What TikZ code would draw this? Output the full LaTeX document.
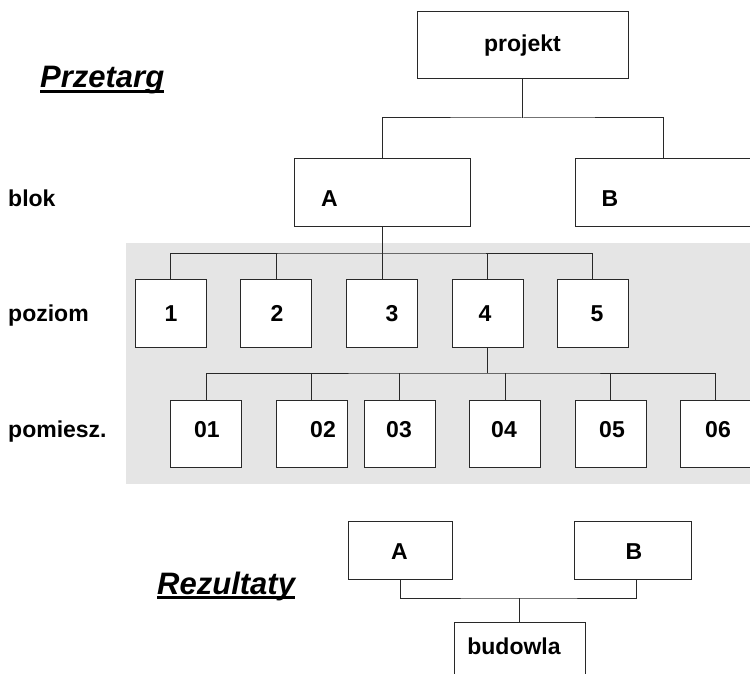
\documentclass[tikz,border=0pt]{standalone}
\usepackage{fontspec}
\setmainfont{Liberation Sans}
\definecolor{panel}{RGB}{229,229,229}
\definecolor{ink}{RGB}{40,40,40}
\begin{document}
\begin{tikzpicture}[x=1pt,y=-1pt,
  box/.style={draw=ink, line width=1pt, fill=white, inner sep=0pt, outer sep=0pt},
  conn/.style={draw=ink, line width=1pt},
  lbl/.style={font=\fontsize{23}{23}\selectfont\bfseries, inner sep=0pt, anchor=base},
  sidelbl/.style={lbl, anchor=base west},
  title/.style={font=\fontsize{31}{31}\selectfont\bfseries\itshape, inner sep=0pt, anchor=base west},
  uline/.style={line width=2.5pt, draw=black}
]
\useasboundingbox (0,0) rectangle (750,674);
\fill[panel] (126,243) rectangle (751,484);

% boxes
\node[box, minimum width=211pt, minimum height=67pt] (proj) at (522.5,45.5) {};
\node[box, minimum width=176pt, minimum height=67pt] (A) at (382,192.5) {};
\node[box, minimum width=176pt, minimum height=67pt] (B) at (663,192.5) {};
\foreach \n/\x in {1/170.5,2/276,3/382,4/487.5,5/592.5}
  \node[box, minimum width=71pt, minimum height=68pt] (p\n) at (\x,313) {};
\foreach \n/\x in {1/206,2/311.5,3/399.5,4/505,5/610.5,6/715.5}
  \node[box, minimum width=71pt, minimum height=67pt] (r\n) at (\x,433.5) {};
\node[box, minimum width=104pt, minimum height=58pt] (A2) at (400,550) {};
\node[box, minimum width=117pt, minimum height=58pt] (B2) at (632.5,550) {};
\node[box, minimum width=131pt, minimum height=68pt] (bud) at (519.5,656) {};

% connectors
\coordinate (bus0) at (522.5,118);
\draw[conn] (proj.south) -- (bus0);
\draw[conn] (A.north) |- (bus0) -| (B.north);

\coordinate (bus1) at (382,253);
\draw[conn] (A.south) -- (p3.north);
\draw[conn] (p1.north) |- (bus1) -| (p5.north);
\draw[conn] (p2.north) -- (p2.north |- bus1);
\draw[conn] (p4.north) -- (p4.north |- bus1);

\coordinate (bus2) at (487.5,373);
\draw[conn] (p4.south) -- (bus2);
\draw[conn] (r1.north) |- (bus2) -| (r6.north);
\foreach \n in {2,3,4,5}
  \draw[conn] (r\n.north) -- (r\n.north |- bus2);

\coordinate (bus3) at (519.5,598);
\draw[conn] (A2.south) |- (bus3) -| ([xshift=3.5pt]B2.south);
\draw[conn] (bus3) -- (bud.north);

% texts
\node[title] (tprz) at (40,88) {Przetarg};
\draw[uline] ([yshift=-3.5pt]tprz.base west) -- ([yshift=-3.5pt]tprz.base east);
\node[title] (trez) at (157,594) {Rezultaty};
\draw[uline] ([yshift=-3.5pt]trez.base west) -- ([yshift=-3.5pt]trez.base east);

\node[sidelbl] (tblok) at (8,206) {blok};
\node[sidelbl] (tpoz) at (8,321) {poziom};
\node[sidelbl] (tpom) at (8,437) {pomiesz.};

\node[lbl] (tproj) at (522.5,52) {projekt};
\node[lbl] (tA) at (329.5,206) {A};
\node[lbl] (tB) at (610,206) {B};
\node[lbl] (t1) at (171,321) {1};
\node[lbl] (t2) at (277,321) {2};
\node[lbl] (t3) at (392,321) {3};
\node[lbl] (t4) at (485,321) {4};
\node[lbl] (t5) at (597,321) {5};
\node[lbl] (t01) at (207,437) {01};
\node[lbl] (t02) at (323,437) {02};
\node[lbl] (t03) at (399,437) {03};
\node[lbl] (t04) at (504,437) {04};
\node[lbl] (t05) at (612,437) {05};
\node[lbl] (t06) at (718,437) {06};
\node[lbl] (tA2) at (399.5,559) {A};
\node[lbl] (tB2) at (634,559) {B};
\node[lbl] (tbud) at (514,654) {budowla};
\end{tikzpicture}
\end{document}
